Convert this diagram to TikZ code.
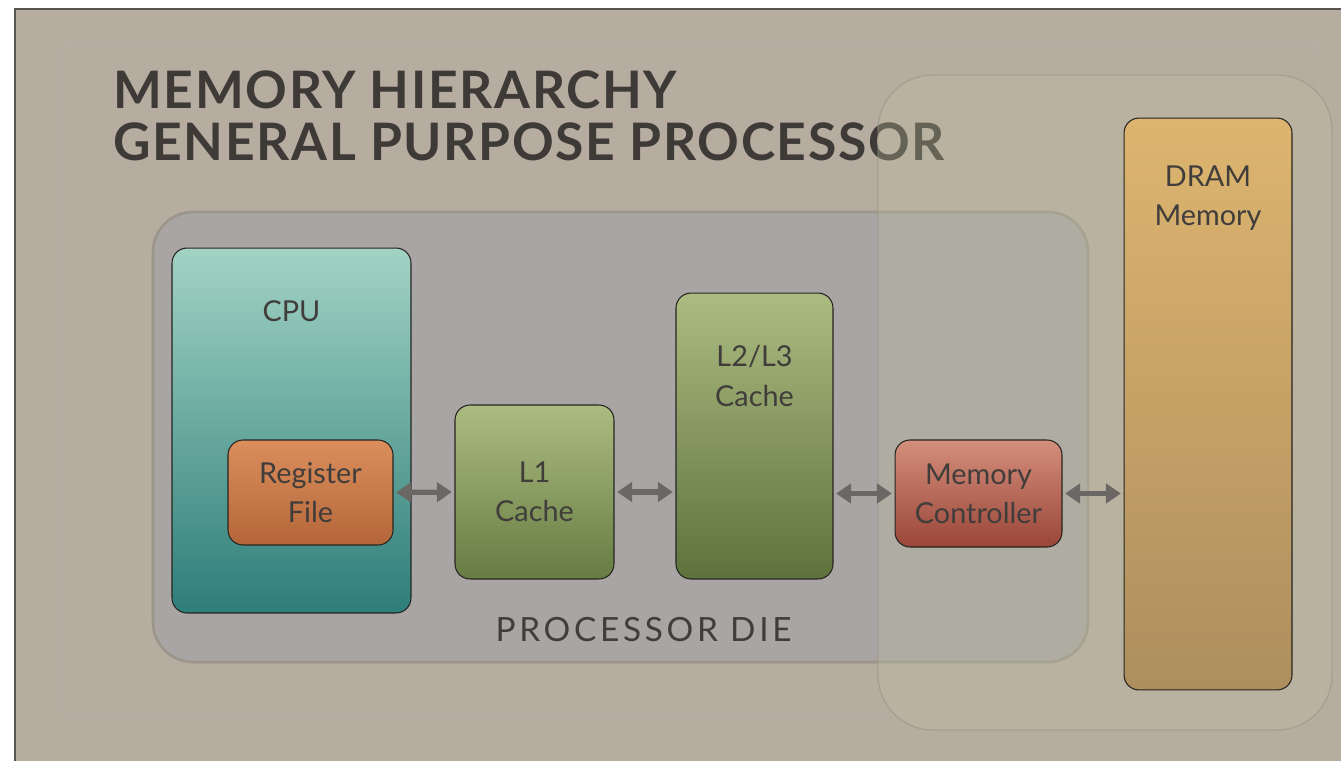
\documentclass[tikz,border=0pt]{standalone}
\usepackage{fontspec}
\setmainfont{Lato}
\newfontfamily\headfont[LetterSpace=3.2]{Lato}
\newfontfamily\spacedfont[LetterSpace=11]{Lato}
\usetikzlibrary{arrows.meta}
\definecolor{SlideBg}{RGB}{182,172,160}
\definecolor{SlideEdge}{RGB}{88,84,80}
\definecolor{TitleInk}{RGB}{62,58,55}
\definecolor{InkGray}{RGB}{64,61,59}
\definecolor{DieFill}{RGB}{168,165,164}
\definecolor{DieEdge}{RGB}{156,149,138}
\definecolor{ZoneFill}{RGB}{192,193,160}
\definecolor{ZoneEdge}{RGB}{150,146,132}
\definecolor{BoxEdge}{RGB}{38,36,32}
\definecolor{LinkGray}{RGB}{106,103,100}
\definecolor{CpuTop}{RGB}{162,211,196}
\definecolor{CpuBot}{RGB}{46,126,121}
\definecolor{RegTop}{RGB}{219,142,92}
\definecolor{RegBot}{RGB}{180,102,58}
\definecolor{CacheTop}{RGB}{172,188,129}
\definecolor{CacheBot}{RGB}{102,124,66}
\definecolor{MemTop}{RGB}{212,142,124}
\definecolor{MemBot}{RGB}{154,70,56}
\definecolor{DramTop}{RGB}{221,181,111}
\definecolor{DramBot}{RGB}{174,142,94}

\begin{document}
\begin{tikzpicture}[x=0.02cm, y=-0.02cm,
    block/.style={draw=BoxEdge, line width=0.6pt, rounded corners=0.3cm, inner sep=0pt},
    boxtext/.style={font=\fontsize{16.4}{22.4}\selectfont, text=InkGray, align=center},
    link/.style={{Triangle[width=11pt,length=8.5pt]}-{Triangle[width=11pt,length=8.5pt]},
      line width=3pt, draw=LinkGray, shorten <=1.5pt, shorten >=1.5pt}]
    \useasboundingbox (0,0) rectangle (1341,761);

    % Slide
    \fill[white] (0,0) rectangle (1341,761);
    \fill[SlideBg] (15,9) rectangle (1341,761);
    \draw[SlideEdge, line width=1.2pt] (15,761) -- (15,9) -- (1341,9);
    \draw[SlideEdge!40, opacity=0.35, rounded corners=0.2cm] (63,43) rectangle (1320,715);

    % Title
    \node[anchor=base west, inner sep=0pt, text=TitleInk,
      font=\headfont\bfseries\fontsize{29.4}{30}\selectfont] (title1) at (113,108) {MEMORY HIERARCHY};
    \node[anchor=base west, inner sep=0pt, text=TitleInk,
      font=\headfont\bfseries\fontsize{29.4}{30}\selectfont] (title2) at (113,160) {GENERAL PURPOSE PROCESSOR};

    % Processor die
    \draw[fill=DieFill, draw=DieEdge, line width=1.5pt, rounded corners=0.8cm] (153,212) rectangle (1088,662);
    \node[anchor=base, inner sep=0pt, text=InkGray,
      font=\spacedfont\fontsize{19}{20}\selectfont] (dielabel) at (643.5,641) {PROCESSOR DIE};

    % Memory side
    \draw[fill=ZoneFill, fill opacity=0.3, draw=ZoneEdge, draw opacity=0.5, line width=0.8pt,
      rounded corners=1.1cm] (878,75) rectangle (1332,730);

    % CPU and register file
    \node[block, minimum width=4.78cm, minimum height=7.30cm, top color=CpuTop, bottom color=CpuBot] (cpu) at (291.5,430.5) {};
    \node[boxtext] (cputext) at (291.5,311) {CPU};
    \node[block, boxtext, minimum width=3.30cm, minimum height=2.10cm, top color=RegTop, bottom color=RegBot] (reg) at (310.5,492.5) {Register\\File};

    % Caches
    \node[block, boxtext, minimum width=3.18cm, minimum height=3.48cm, top color=CacheTop, bottom color=CacheBot] (l1) at (534.5,492) {L1\\Cache};
    \node[block, minimum width=3.14cm, minimum height=5.72cm, top color=CacheTop, bottom color=CacheBot!92!black] (l2) at (754.5,436) {};
    \node[boxtext] (l2text) at (754.5,376) {L2/L3\\Cache};

    % Memory controller and DRAM
    \node[block, boxtext, minimum width=3.34cm, minimum height=2.14cm, top color=MemTop, bottom color=MemBot] (mc) at (978.5,493.5) {Memory\\Controller};
    \node[block, minimum width=3.36cm, minimum height=11.44cm, top color=DramTop, bottom color=DramBot] (dram) at (1208,404) {};
    \node[boxtext] (dramtext) at (1208,198) {DRAM\\Memory};

    % Links
    \draw[link] (reg.east) -- (l1.west);
    \draw[link] (l1.east) -- (l1.east -| l2.west);
    \draw[link] (mc.west -| l2.east) -- (mc.west);
    \draw[link] (mc.east) -- (mc.east -| dram.west);
\end{tikzpicture}
\end{document}
